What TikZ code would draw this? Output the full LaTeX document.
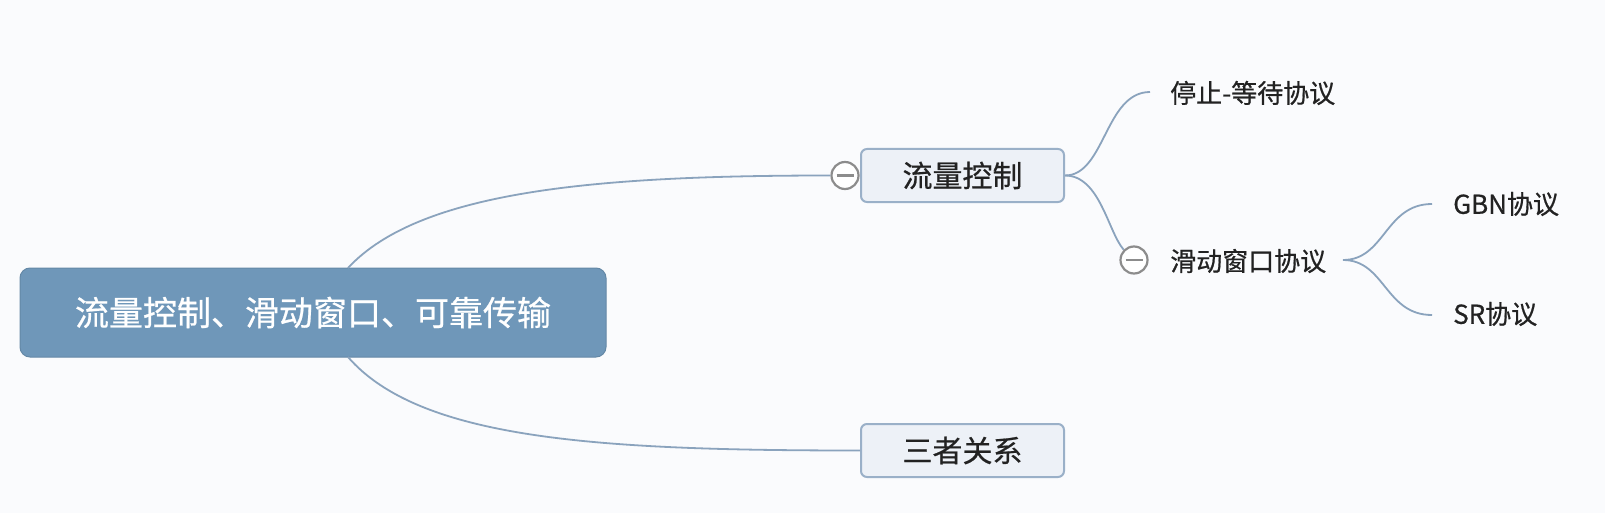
\documentclass[tikz,border=0pt]{standalone}
\usepackage{fontspec}
\setmainfont{Noto Sans CJK SC}
\newfontfamily\cjk[FakeBold=0.6]{Noto Sans CJK SC}
\definecolor{bgc}{HTML}{FAFBFD}
\definecolor{rootfill}{HTML}{6F97B9}
\definecolor{boxfill}{HTML}{EDF1F7}
\definecolor{boxline}{HTML}{9AB0C8}
\definecolor{linkc}{HTML}{8AA3BD}
\definecolor{txt}{HTML}{222222}
\definecolor{knob}{HTML}{8C8C8C}
\begin{document}
\begin{tikzpicture}[x=1pt,y=-1pt,
  rootbox/.style={draw=rootfill!90!black, line width=1pt, fill=rootfill, rounded corners=10pt,
    minimum width=586pt, minimum height=89pt, text=white, font=\cjk\fontsize{34}{40}\selectfont, inner sep=0pt},
  subbox/.style={draw=boxline, line width=2pt, fill=boxfill, rounded corners=6pt,
    minimum width=203pt, minimum height=53pt, text=txt, font=\cjk\fontsize{30}{36}\selectfont, inner sep=0pt},
  leaf/.style={text=txt, font=\cjk\fontsize{26}{32}\selectfont, inner sep=0pt, anchor=west},
  link/.style={draw=linkc, line width=1.8pt},
  knobc/.style={circle, draw=knob, line width=2.2pt, fill=white, minimum size=27pt, inner sep=0pt}
]
\useasboundingbox[fill=bgc] (0,0) rectangle (1605,513);

\node[rootbox] (root) at (313,312.5) {流量控制、滑动窗口、可靠传输};
\node[subbox] (flow) at (962.5,175.5) {流量控制};
\node[subbox] (three) at (962.5,450.5) {三者关系};
\node[leaf] (stop) at (1170,93) {停止-等待协议};
\node[leaf] (slide) at (1170,261) {滑动窗口协议};
\node[leaf] (gbn) at (1453,204) {GBN协议};
\node[leaf] (sr) at (1453,314) {SR协议};

\node[knobc] (k1) at (845,175.5) {};
\node[knobc] (k2) at (1134,260) {};
\draw[knob, line width=2.2pt] ([xshift=-8.5pt]k1.center) -- ([xshift=8.5pt]k1.center);
\draw[knob, line width=2.2pt] ([xshift=-8.5pt]k2.center) -- ([xshift=8.5pt]k2.center);

\coordinate (rt) at (348,268);
\coordinate (rb) at (348,357);
\coordinate (sf) at (1343,260);
\coordinate (gend) at (1432,204);
\coordinate (send) at (1432,315);
\coordinate (stend) at (1150,92);

\draw[link] (rt) .. controls (420,190) and (600,175.5) .. (k1.west);
\draw[link] (rb) .. controls (420,440) and (600,450.5) .. (three.west);
\draw[link] (flow.east) .. controls (1105,175.5) and (1105,92) .. (stend);
\draw[link] (flow.east) .. controls (1100,175.5) and (1108,232) .. (k2.north west);
\draw[link] (sf) .. controls (1385,260) and (1385,204) .. (gend);
\draw[link] (sf) .. controls (1385,260) and (1385,315) .. (send);
\end{tikzpicture}
\end{document}
